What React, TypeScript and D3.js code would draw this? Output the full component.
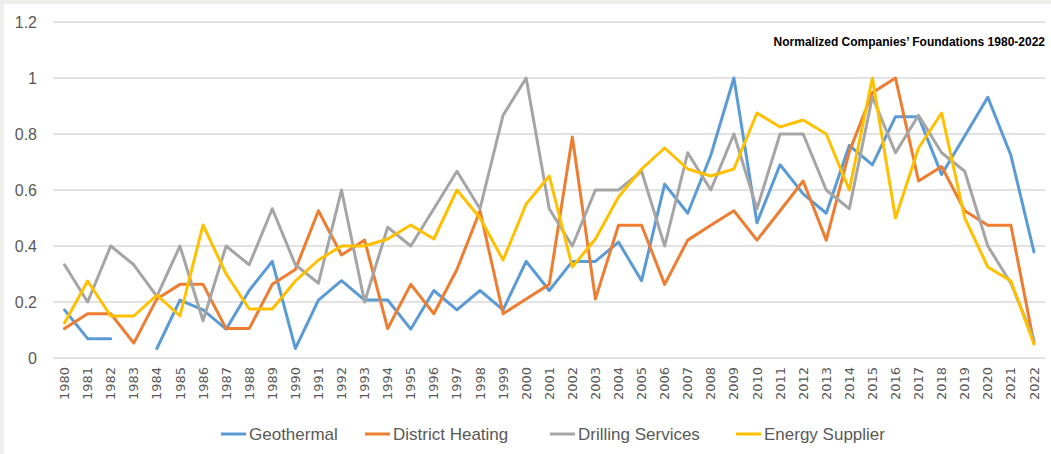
import React, { useEffect, useRef } from 'react';
import * as d3 from 'd3';

const years = d3.range(1980, 2023).map(String);

const geothermal: (number | null)[] = [
  0.172, 0.069, 0.069, null, 0.034, 0.207, 0.172, 0.103, 0.241, 0.345,
  0.034, 0.207, 0.276, 0.207, 0.207, 0.103, 0.241, 0.172, 0.241, 0.172,
  0.345, 0.241, 0.345, 0.345, 0.414, 0.276, 0.621, 0.517, 0.724, 1.0,
  0.483, 0.69, 0.586, 0.517, 0.759, 0.69, 0.862, 0.862, 0.655, 0.793,
  0.931, 0.724, 0.379,
];

const districtHeating: (number | null)[] = [
  0.105, 0.158, 0.158, 0.053, 0.211, 0.263, 0.263, 0.105, 0.105, 0.263,
  0.316, 0.526, 0.368, 0.421, 0.105, 0.263, 0.158, 0.316, 0.526, 0.158,
  0.211, 0.263, 0.789, 0.211, 0.474, 0.474, 0.263, 0.421, 0.474, 0.526,
  0.421, 0.526, 0.632, 0.421, 0.737, 0.947, 1.0, 0.632, 0.684, 0.526,
  0.474, 0.474, 0.053,
];

const drillingServices: (number | null)[] = [
  0.333, 0.2, 0.4, 0.333, 0.22, 0.4, 0.133, 0.4, 0.333, 0.533,
  0.333, 0.267, 0.6, 0.2, 0.467, 0.4, 0.533, 0.667, 0.533, 0.867,
  1.0, 0.533, 0.4, 0.6, 0.6, 0.667, 0.4, 0.733, 0.6, 0.8,
  0.533, 0.8, 0.8, 0.6, 0.533, 0.933, 0.733, 0.867, 0.733, 0.667,
  0.4, 0.267, 0.067,
];

const energySupplier: (number | null)[] = [
  0.125, 0.275, 0.15, 0.15, 0.225, 0.15, 0.475, 0.3, 0.175, 0.175,
  0.275, 0.35, 0.4, 0.4, 0.425, 0.475, 0.425, 0.6, 0.5, 0.35,
  0.55, 0.65, 0.325, 0.425, 0.575, 0.675, 0.75, 0.675, 0.65, 0.675,
  0.875, 0.825, 0.85, 0.8, 0.6, 1.0, 0.5, 0.75, 0.875, 0.5,
  0.325, 0.275, 0.05,
];

const seriesNames = ['Geothermal', 'District Heating', 'Drilling Services', 'Energy Supplier'];
const seriesValues = [geothermal, districtHeating, drillingServices, energySupplier];
const seriesColors = ['#5B9BD5', '#ED7D31', '#A5A5A5', '#FFC000'];
const yTicks = [0, 0.2, 0.4, 0.6, 0.8, 1, 1.2];
const legendX = [221, 365, 550, 736];
const title = 'Normalized Companies\u2019 Foundations 1980-2022';

const App: React.FC = () => {
  const svgRef = useRef<SVGSVGElement>(null);

  useEffect(() => {
    document.body.style.margin = '0';
    if (!svgRef.current) return;
    const svg = d3.select(svgRef.current);
    svg.selectAll('*').remove();

    const width = 1051;
    const height = 454;

    // page frame: light grey edge, white card
    svg.append('rect').attr('width', width).attr('height', height).attr('fill', '#efeeea');
    svg.append('rect').attr('x', 4).attr('y', 4).attr('width', width - 4).attr('height', height - 4).attr('fill', '#ffffff');

    const x = d3.scaleBand<string>().domain(years).range([53, 1045.5]);
    const cx = (d: string) => (x(d) ?? 0) + x.bandwidth() / 2;
    const y = d3.scaleLinear().domain([0, 1.2]).range([358, 22]);

    // gridlines
    svg.append('g')
      .selectAll('line')
      .data(yTicks)
      .enter()
      .append('line')
      .attr('x1', 53)
      .attr('x2', 1045.5)
      .attr('y1', d => y(d))
      .attr('y2', d => y(d))
      .attr('stroke', '#d9d9d9')
      .attr('stroke-width', 1.3);

    // y labels
    svg.append('g')
      .selectAll('text')
      .data(yTicks)
      .enter()
      .append('text')
      .attr('x', 37)
      .attr('y', d => y(d))
      .attr('dy', '0.35em')
      .attr('text-anchor', 'end')
      .style('font-family', '"Liberation Sans", Arial, sans-serif')
      .style('font-size', '16px')
      .style('fill', '#595959')
      .text(d => String(d));

    // x labels, rotated
    svg.append('g')
      .selectAll('text')
      .data(years)
      .enter()
      .append('text')
      .attr('transform', d => `translate(${cx(d)},367) rotate(-90)`)
      .attr('dy', '0.35em')
      .attr('text-anchor', 'end')
      .style('font-family', '"DejaVu Sans", sans-serif')
      .style('font-size', '13px')
      .style('fill', '#595959')
      .text(d => d);

    // lines
    const line = d3.line<number | null>()
      .defined(d => d !== null)
      .x((_, i) => cx(years[i]))
      .y(d => y(d as number));

    seriesValues.forEach((vals, i) => {
      svg.append('path')
        .datum(vals)
        .attr('d', line)
        .attr('fill', 'none')
        .attr('stroke', seriesColors[i])
        .attr('stroke-width', 3)
        .attr('stroke-linejoin', 'round')
        .attr('stroke-linecap', 'round');
    });

    // title
    svg.append('text')
      .attr('x', 1045)
      .attr('y', 46)
      .attr('text-anchor', 'end')
      .style('font-family', '"Liberation Sans Narrow", "Liberation Sans", sans-serif')
      .style('font-size', '12px')
      .style('font-weight', 'bold')
      .style('fill', '#000')
      .text(title);

    // legend
    const legend = svg.append('g')
      .selectAll('g')
      .data(seriesNames)
      .enter()
      .append('g')
      .attr('transform', (_, i) => `translate(${legendX[i]},434)`);

    legend.append('line')
      .attr('x1', 0)
      .attr('x2', 25)
      .attr('stroke', (_, i) => seriesColors[i])
      .attr('stroke-width', 3);

    legend.append('text')
      .attr('x', 28)
      .attr('dy', '0.35em')
      .style('font-family', '"Liberation Sans", Arial, sans-serif')
      .style('font-size', '17px')
      .style('fill', '#595959')
      .text(d => d);
  }, []);

  return <svg ref={svgRef} width={1051} height={454} style={{ display: 'block' }} />;
};

export default App;
